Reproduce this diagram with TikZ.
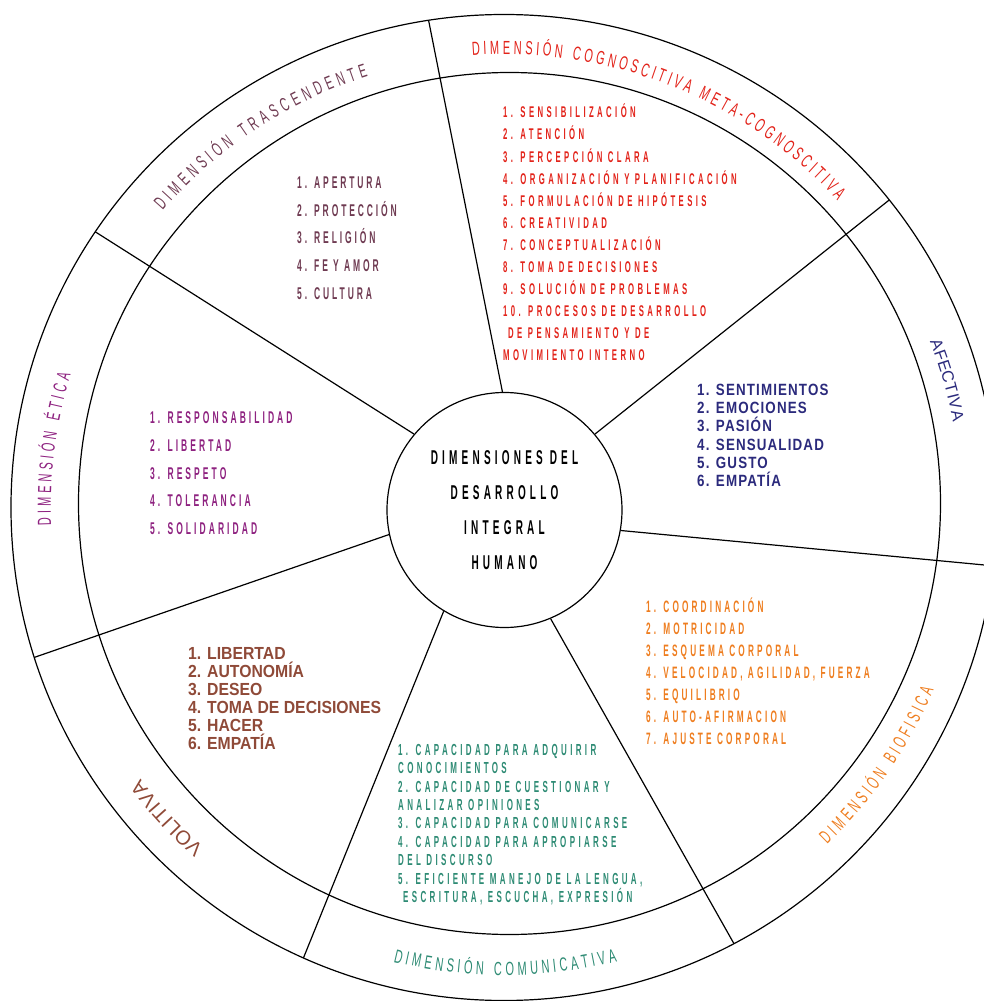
\documentclass[tikz,border=0pt]{standalone}
\usepackage{fontspec}
\usepackage{xcolor}
\usetikzlibrary{decorations.text}
\setmainfont{Liberation Sans}
\newfontfamily\narrowfont[FakeStretch=0.5]{Liberation Sans}
\newfontfamily\labelfont[FakeStretch=0.58]{Liberation Sans}
\newfontfamily\afectfont[FakeStretch=0.82,LetterSpace=7]{Liberation Sans}
\newfontfamily\volifont[FakeStretch=0.9]{Liberation Sans}
\definecolor{transc}{HTML}{6F3B52}
\definecolor{cogno}{HTML}{E2231A}
\definecolor{afect}{HTML}{2B2A7C}
\definecolor{biofis}{HTML}{EE7D1F}
\definecolor{comun}{HTML}{2E8B74}
\definecolor{voli}{HTML}{8F4A38}
\definecolor{etica}{HTML}{8E2280}
\tikzset{
    ring-line/.style = {draw=black, line width=1.2pt},
    hub-circle/.style = {draw=black, line width=1.2pt, circle, minimum size=235pt, inner sep=0pt, align=center, font=\narrowfont\bfseries\addfontfeature{LetterSpace=21}\fontsize{20}{35}\selectfont},
    item-list/.style = {anchor=north west, inner sep=0pt, align=left},
    ring-label/.style = {decorate, decoration={text along path, text align=fit to path, raise=-6.8pt}},
}

\begin{document}
\begin{tikzpicture}[x=1pt, y=1pt]
\useasboundingbox (-504.5,-491) rectangle (479.5,510);
\clip (-504.5,-491) rectangle (479.5,510);
\coordinate (rimC) at (-0.5,2.5);
\coordinate (ringC) at (5,6.5);
\draw[ring-line] (rimC) circle (493);
\draw[ring-line] (ringC) circle (431);
\node[hub-circle] (hub) at (0,0) {DIMENSIONES DEL\\DESARROLLO\\INTEGRAL\\HUMANO};
\foreach \a/\b [count=\i] in {91.2/98.8, 140.9/146, 40.1/38.6, 350.3/353.2, 293/297.8, 239.5/246, 192.1/197.7}{
    \path (rimC) ++(\b:493) coordinate (rim\i);
    \draw[ring-line] (hub.\a) -- (rim\i);
}

\node[item-list, text=transc, font=\narrowfont\bfseries\addfontfeature{LetterSpace=17}\fontsize{17}{27.7}\selectfont] (trasc-list) at (-207.5,333.4)
    {1. APERTURA\\2. PROTECCIÓN\\3. RELIGIÓN\\4. FE Y AMOR\\5. CULTURA};
\node[item-list, text=cogno, font=\narrowfont\bfseries\addfontfeature{LetterSpace=22}\fontsize{15.5}{22.1}\selectfont] (cogno-list) at (-1.5,406.1)
    {1. SENSIBILIZACIÓN\\2. ATENCIÓN\\3. PERCEPCIÓN CLARA\\4. ORGANIZACIÓN Y PLANIFICACIÓN\\5. FORMULACIÓN DE HIPÓTESIS\\6. CREATIVIDAD\\7. CONCEPTUALIZACIÓN\\8. TOMA DE DECISIONES\\9. SOLUCIÓN DE PROBLEMAS\\10. PROCESOS DE DESARROLLO\\\hspace{5pt}DE PENSAMIENTO Y DE\\MOVIMIENTO INTERNO};
\node[item-list, text=afect, font=\afectfont\bfseries\fontsize{16.3}{18.2}\selectfont] (afect-list) at (192.5,126)
    {1. SENTIMIENTOS\\2. EMOCIONES\\3. PASIÓN\\4. SENSUALIDAD\\5. GUSTO\\6. EMPATÍA};
\node[item-list, text=etica, font=\narrowfont\bfseries\addfontfeature{LetterSpace=18}\fontsize{17}{27.7}\selectfont] (etica-list) at (-354.5,98.4)
    {1. RESPONSABILIDAD\\2. LIBERTAD\\3. RESPETO\\4. TOLERANCIA\\5. SOLIDARIDAD};
\node[item-list, text=voli, font=\volifont\bfseries\fontsize{17.5}{18}\selectfont] (voli-list) at (-316.5,-137.6)
    {1. LIBERTAD\\2. AUTONOMÍA\\3. DESEO\\4. TOMA DE DECISIONES\\5. HACER\\6. EMPATÍA};
\node[item-list, text=biofis, font=\narrowfont\bfseries\addfontfeature{LetterSpace=19}\fontsize{16.5}{22}\selectfont] (biofis-list) at (141.5,-87.2)
    {1. COORDINACIÓN\\2. MOTRICIDAD\\3. ESQUEMA CORPORAL\\4. VELOCIDAD, AGILIDAD, FUERZA\\5. EQUILIBRIO\\6. AUTO-AFIRMACION\\7. AJUSTE CORPORAL};
\node[item-list, text=comun, font=\narrowfont\bfseries\addfontfeature{LetterSpace=21}\fontsize{16}{18.4}\selectfont] (comun-list) at (-106.5,-234)
    {1. CAPACIDAD PARA ADQUIRIR\\CONOCIMIENTOS\\2. CAPACIDAD DE CUESTIONAR Y\\ANALIZAR OPINIONES\\3. CAPACIDAD PARA COMUNICARSE\\4. CAPACIDAD PARA APROPIARSE\\DEL DISCURSO\\5. EFICIENTE MANEJO DE LA LENGUA,\\\hspace{5pt}ESCRITURA, ESCUCHA, EXPRESIÓN};

\begin{scope}[shift={(rimC)}]
\path[ring-label, decoration={text={|\labelfont\fontsize{19}{19}\selectfont\color{transc}|DIMENSIÓN TRASCENDENTE}}]
    (139:459) arc[start angle=139, end angle=107.5, radius=459];
\path[ring-label, decoration={text={|\labelfont\fontsize{19}{19}\selectfont\color{cogno}|DIMENSIÓN COGNOSCITIVA META-COGNOSCITIVA}}]
    (94:460) arc[start angle=94, end angle=42.7, radius=460];
\path[ring-label, decoration={text={|\normalfont\fontsize{16.5}{16.5}\selectfont\color{afect}|AFECTIVA}, raise=-5.9pt}]
    (21.3:463) arc[start angle=21.3, end angle=10.8, radius=463];
\path[ring-label, decoration={text={|\labelfont\fontsize{19}{19}\selectfont\color{biofis}|DIMENSIÓN BIOFISICA}}]
    (-46.2:460) arc[start angle=-46.2, end angle=-23, radius=460];
\path[ring-label, decoration={text={|\labelfont\fontsize{19}{19}\selectfont\color{comun}|DIMENSIÓN COMUNICATIVA}}]
    (256.3:461) arc[start angle=256.3, end angle=284, radius=461];
\path[ring-label, decoration={text={|\normalfont\fontsize{20}{20}\selectfont\color{voli}|VOLITIVA}, raise=-7.2pt}]
    (228.6:461) arc[start angle=228.6, end angle=216.8, radius=461];
\path[ring-label, decoration={text={|\labelfont\fontsize{19}{19}\selectfont\color{etica}|DIMENSIÓN ÉTICA}}]
    (182.3:460) arc[start angle=182.3, end angle=163, radius=460];
\end{scope}
\end{tikzpicture}
\end{document}
